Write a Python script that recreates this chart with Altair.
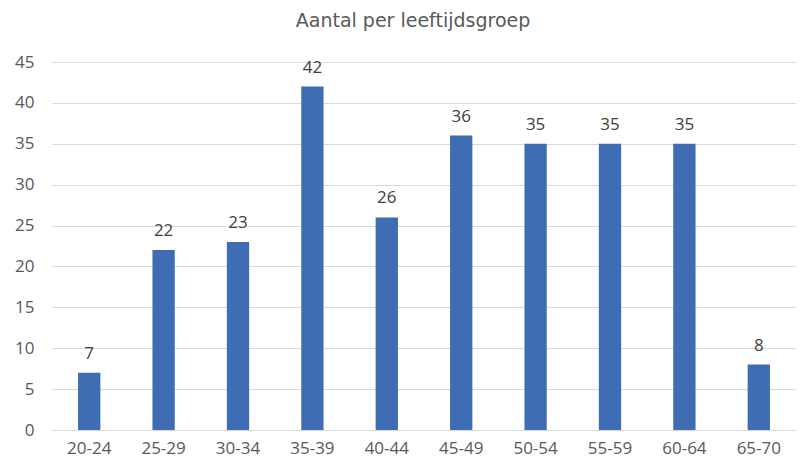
import altair as alt
import pandas as pd

groups = ["20-24", "25-29", "30-34", "35-39", "40-44", "45-49", "50-54", "55-59", "60-64", "65-70"]
counts = [7, 22, 23, 42, 26, 36, 35, 35, 35, 8]
y_ticks = [0, 5, 10, 15, 20, 25, 30, 35, 40, 45]

df = pd.DataFrame({"groep": groups, "aantal": counts})

FONT = "Open Sans"
GREY = "#595959"

base = alt.Chart(df).encode(
    x=alt.X(
        "groep:N",
        sort=groups,
        scale=alt.Scale(paddingInner=0.7, paddingOuter=0.35),
        axis=alt.Axis(
            title=None, labelAngle=0, domain=False, ticks=False,
            labelPadding=10, labelFontSize=17, labelColor=GREY, labelFont=FONT,
        ),
    ),
    y=alt.Y(
        "aantal:Q",
        scale=alt.Scale(domain=[0, 45], nice=False),
        axis=alt.Axis(
            title=None, values=y_ticks, domain=False, ticks=False,
            labelPadding=18, labelFontSize=17, labelColor=GREY, labelFont=FONT,
            gridColor="#d9d9d9", gridWidth=1.2,
        ),
    ),
)

bars = base.mark_bar(color="#3f6db3")
labels = base.mark_text(
    baseline="alphabetic", dy=-14, fontSize=17, color="#404040", font=FONT
).encode(text="aantal:Q")

chart = (
    (bars + labels)
    .properties(
        width=744,
        height=368,
        title=alt.TitleParams(
            "Aantal per leeftijdsgroep", fontSize=19, font="DejaVu Sans", color=GREY,
            fontWeight="normal", anchor="middle", offset=22, dx=-11,
        ),
        padding={"left": 44, "top": 54, "right": 0, "bottom": 34},
        autosize="none",
    )
    .configure_view(stroke=None)
)

chart.save("out.html", embed_options={"renderer": "svg", "actions": False})
